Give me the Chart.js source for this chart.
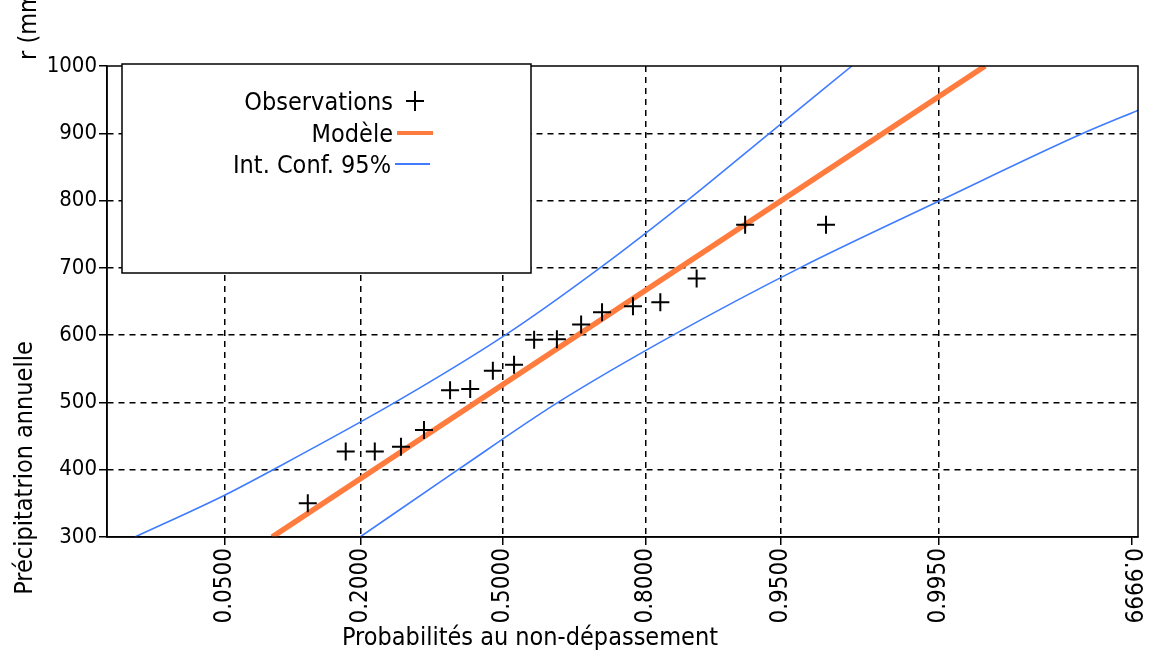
<!DOCTYPE html>
<html>
<head>
<meta charset="utf-8">
<script src="https://cdn.jsdelivr.net/npm/chart.js@4.4.1/dist/chart.umd.min.js"></script>
<style>
  html, body { margin: 0; padding: 0; background: #fff; }
</style>
</head>
<body>
<canvas id="chart" width="1149" height="655"></canvas>
<script>
// probability axis (normal scale)
const xTickProbs = [0.05, 0.2, 0.5, 0.8, 0.95, 0.995, 0.9999];
const xTickLabels = ['0.0500', '0.2000', '0.5000', '0.8000', '0.9500', '0.9950', '0.9999'];
const xRangeProb = [0.00956, 0.999914];
const yMin = 300, yMax = 1000, yStep = 100;

// observations
const obsProb = [0.124, 0.176, 0.224, 0.273, 0.320, 0.377, 0.423, 0.476, 0.526, 0.573, 0.625, 0.678, 0.721, 0.779, 0.824, 0.874, 0.924, 0.972];
const obsValue = [350, 427, 427, 434, 459, 518, 520, 547, 556, 593, 594, 616, 634, 643, 649, 684, 764, 764];

// fitted model
const modelProb = [0.0859, 0.99783];
const modelValue = [300, 1000];

// 95% confidence interval
const ciUpperProb = [0.0147, 0.0488, 0.0868, 0.2614, 0.5048, 0.7170, 0.8620, 0.9425, 0.9805];
const ciUpperValue = [300, 361, 400, 500, 600, 700, 800, 900, 1000];
const ciLowerProb = [0.1988, 0.3951, 0.6274, 0.8428, 0.9605, 0.99515, 0.99970, 0.99992];
const ciLowerValue = [300, 400, 500, 600, 700, 800, 900, 936];

const FONT = '"Liberation Sans Narrow", "Arial Narrow", "DejaVu Sans Condensed", sans-serif';

// inverse normal CDF (Acklam)
function probit(p) {
    const a = [-3.969683028665376e+01, 2.209460984245205e+02, -2.759285104469687e+02, 1.383577518672690e+02, -3.066479806614716e+01, 2.506628277459239e+00];
    const b = [-5.447609879822406e+01, 1.615858368580409e+02, -1.556989798598866e+02, 6.680131188771972e+01, -1.328068155288572e+01];
    const c = [-7.784894002430293e-03, -3.223964580411365e-01, -2.400758277161838e+00, -2.549732539343734e+00, 4.374664141464968e+00, 2.938163982698783e+00];
    const d = [7.784695709041462e-03, 3.224671290700398e-01, 2.445134137142996e+00, 3.754408661907416e+00];
    const plow = 0.02425;
    let q, r;
    if (p < plow) {
        q = Math.sqrt(-2 * Math.log(p));
        return (((((c[0]*q+c[1])*q+c[2])*q+c[3])*q+c[4])*q+c[5]) / ((((d[0]*q+d[1])*q+d[2])*q+d[3])*q+1);
    }
    if (p > 1 - plow) {
        q = Math.sqrt(-2 * Math.log(1 - p));
        return -(((((c[0]*q+c[1])*q+c[2])*q+c[3])*q+c[4])*q+c[5]) / ((((d[0]*q+d[1])*q+d[2])*q+d[3])*q+1);
    }
    q = p - 0.5;
    r = q * q;
    return (((((a[0]*r+a[1])*r+a[2])*r+a[3])*r+a[4])*r+a[5])*q / (((((b[0]*r+b[1])*r+b[2])*r+b[3])*r+b[4])*r+1);
}

function toPoints(probs, values) {
    return probs.map((p, i) => ({ x: probit(p), y: values[i] }));
}

const ORANGE = '#ff7b3e';
const BLUE = '#3f7cff';

// frame, titles and the boxed legend
const decor = {
    id: 'decor',
    afterDatasetsDraw(chart) {
        const a = chart.chartArea;
        const ctx = chart.ctx;
        ctx.save();
        ctx.strokeStyle = '#000';
        ctx.lineWidth = 1.5;
        ctx.strokeRect(a.left, a.top, a.right - a.left, a.bottom - a.top);
        ctx.restore();
    },
    afterDraw(chart) {
        const ctx = chart.ctx;
        const x = chart.scales.x;
        ctx.save();

        // legend box
        ctx.fillStyle = '#fff';
        ctx.fillRect(122, 64, 409, 209);
        ctx.strokeStyle = '#000';
        ctx.lineWidth = 1.5;
        ctx.strokeRect(122, 64, 409, 209);
        ctx.fillStyle = '#000';
        ctx.font = '25px ' + FONT;
        ctx.textAlign = 'right';
        ctx.textBaseline = 'alphabetic';
        ctx.fillText('Observations', 393, 110);
        ctx.fillText('Modèle', 393, 142);
        ctx.fillText('Int. Conf. 95%', 391, 173);
        ctx.lineWidth = 2;
        ctx.beginPath();
        ctx.moveTo(406, 101); ctx.lineTo(424, 101);
        ctx.moveTo(415, 91); ctx.lineTo(415, 111);
        ctx.stroke();
        ctx.strokeStyle = ORANGE;
        ctx.lineWidth = 4;
        ctx.beginPath(); ctx.moveTo(397, 133); ctx.lineTo(433, 133); ctx.stroke();
        ctx.strokeStyle = BLUE;
        ctx.lineWidth = 2;
        ctx.beginPath(); ctx.moveTo(395, 164); ctx.lineTo(430, 164); ctx.stroke();

        // axis titles
        ctx.font = '25px ' + FONT;
        ctx.textAlign = 'center';
        ctx.fillText('Probabilités au non-dépassement', 530, 645);

        ctx.save();
        ctx.translate(32, 468);
        ctx.rotate(-Math.PI / 2);
        ctx.fillText('Précipitatrion annuelle', 0, 0);
        ctx.restore();

        ctx.save();
        ctx.translate(36, 60);
        ctx.rotate(-Math.PI / 2);
        ctx.textAlign = 'left';
        ctx.fillText('r (mm)', 0, 0);
        ctx.restore();

        // last tick label reads downward
        const last = xTickProbs.length - 1;
        ctx.save();
        ctx.translate(x.getPixelForValue(probit(xTickProbs[last])), 548);
        ctx.rotate(Math.PI / 2);
        ctx.font = '24px ' + FONT;
        ctx.textAlign = 'left';
        ctx.textBaseline = 'middle';
        ctx.fillText(xTickLabels[last], 0, 0);
        ctx.restore();

        ctx.restore();
    }
};

Chart.defaults.color = '#000';

new Chart(document.getElementById('chart'), {
    type: 'scatter',
    data: {
        datasets: [
            {
                label: 'Observations',
                data: toPoints(obsProb, obsValue),
                pointStyle: 'cross',
                radius: 9,
                borderColor: '#000',
                borderWidth: 2,
                showLine: false,
                order: 0
            },
            {
                label: 'Modèle',
                data: toPoints(modelProb, modelValue),
                showLine: true,
                borderColor: ORANGE,
                borderWidth: 5.5,
                pointRadius: 0,
                order: 1
            },
            {
                label: 'Int. Conf. 95%',
                data: toPoints(ciUpperProb, ciUpperValue),
                showLine: true,
                borderColor: BLUE,
                borderWidth: 1.6,
                pointRadius: 0,
                cubicInterpolationMode: 'monotone',
                order: 2
            },
            {
                label: 'Int. Conf. 95% (inf)',
                data: toPoints(ciLowerProb, ciLowerValue),
                showLine: true,
                borderColor: BLUE,
                borderWidth: 1.6,
                pointRadius: 0,
                cubicInterpolationMode: 'monotone',
                order: 3
            }
        ]
    },
    options: {
        responsive: false,
        animation: false,
        layout: { padding: { top: 66, right: 11, left: 0, bottom: 0 } },
        plugins: {
            legend: { display: false },
            tooltip: { enabled: false }
        },
        scales: {
            x: {
                type: 'linear',
                min: probit(xRangeProb[0]),
                max: probit(xRangeProb[1]),
                afterBuildTicks: (scale) => {
                    scale.ticks = xTickProbs.map(p => ({ value: probit(p) }));
                },
                afterFit: (scale) => {
                    scale.height = 118;
                    scale.paddingLeft = 0;
                    scale.paddingRight = 0;
                },
                ticks: {
                    autoSkip: false,
                    minRotation: 90,
                    maxRotation: 90,
                    padding: 3,
                    font: { family: FONT, size: 24 },
                    callback: (value, index) => index === xTickLabels.length - 1 ? '' : xTickLabels[index]
                },
                grid: {
                    color: (c) => c.index === xTickProbs.length - 1 ? 'rgba(0,0,0,0)' : '#000',
                    lineWidth: 1.5,
                    tickColor: '#000',
                    tickLength: 8
                },
                border: { display: true, color: '#000', width: 1.5, dash: [6, 5] }
            },
            y: {
                min: yMin,
                max: yMax,
                afterFit: (scale) => { scale.width = 107; },
                ticks: {
                    stepSize: yStep,
                    padding: 2,
                    font: { family: FONT, size: 22 },
                    callback: (value) => String(value)
                },
                grid: {
                    color: (c) => (c.tick.value === yMin || c.tick.value === yMax) ? 'rgba(0,0,0,0)' : '#000',
                    lineWidth: 1.5,
                    tickColor: '#000',
                    tickLength: 8
                },
                border: { display: true, color: '#000', width: 1.5, dash: [6, 5] }
            }
        }
    },
    plugins: [decor]
});
</script>
</body>
</html>
